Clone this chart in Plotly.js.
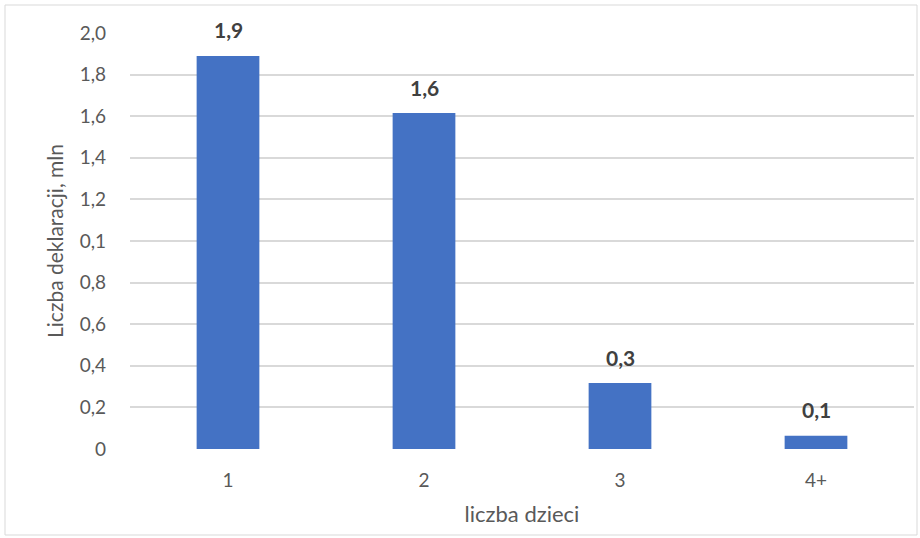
<!DOCTYPE html>
<html>
<head>
<meta charset="utf-8">
<script src="https://cdn.plot.ly/plotly-3.0.1.min.js"></script>
<style>
  html, body { margin: 0; padding: 0; background: #ffffff; }
  #chart { width: 920px; height: 538px; }
</style>
</head>
<body>
<div id="chart"></div>
<script>
// Declarations by number of children (millions)
const categories = ["1", "2", "3", "4+"];
const declarations = [1.89, 1.615, 0.317, 0.064];

// Y-axis ticks and their printed labels
const yTickValues = [0, 0.2, 0.4, 0.6, 0.8, 1.0, 1.2, 1.4, 1.6, 1.8, 2.0];
const yTickLabels = ["0", "0,2", "0,4", "0,6", "0,8", "0,1", "1,2", "1,4", "1,6", "1,8", "2,0"];

const W = 920, H = 538;
const margin = { l: 130, r: 6, t: 33, b: 89 };
const plotW = W - margin.l - margin.r;
const plotH = H - margin.t - margin.b;
const FONT = "Lato, 'Open Sans', sans-serif";

// Outer frame drawn in paper coordinates
const px = x => (x - margin.l) / plotW;
const py = y => (H - margin.b - y) / plotH;

// Value labels: one decimal with a decimal comma, floating above each bar.
// On a category axis the annotation x is the category's index.
const fmt = v => v.toFixed(1).replace(".", ",");
const valueLabels = declarations.map((v, i) => ({
  x: i,
  y: v,
  xref: "x", yref: "y",
  text: "<b>" + fmt(v) + "</b>",
  showarrow: false,
  yanchor: "middle",
  yshift: 26,
  font: { family: FONT, size: 21, color: "#404040" }
}));

const trace = {
  type: "bar",
  x: categories,
  y: declarations,
  marker: { color: "#4472c4" },
  width: 0.32,
  hoverinfo: "skip"
};

const layout = {
  width: W,
  height: H,
  margin: margin,
  separators: ",.",
  paper_bgcolor: "#ffffff",
  plot_bgcolor: "#ffffff",
  font: { family: FONT, size: 19, color: "#595959" },
  showlegend: false,
  xaxis: {
    type: "category",
    showgrid: false,
    zeroline: false,
    showline: false,
    ticks: "",
    ticklen: 0,
    ticklabelstandoff: 18,
    tickfont: { size: 19, color: "#595959" },
    title: { text: "liczba dzieci", font: { size: 22, color: "#595959" }, standoff: 16 }
  },
  yaxis: {
    range: [0, 2.0],
    tickmode: "array",
    tickvals: yTickValues,
    ticktext: yTickLabels,
    showgrid: true,
    gridcolor: "#d9d9d9",
    gridwidth: 2,
    zeroline: false,
    showline: false,
    ticks: "",
    ticklabelstandoff: 23,
    tickfont: { size: 19, color: "#595959" },
    title: { text: "Liczba deklaracji, mln", font: { size: 21, color: "#595959" }, standoff: 10 }
  },
  annotations: valueLabels,
  shapes: [{
    type: "rect",
    xref: "paper", yref: "paper",
    x0: px(5), x1: px(917), y0: py(5), y1: py(535),
    line: { color: "#d9d9d9", width: 1 },
    fillcolor: "rgba(0,0,0,0)",
    layer: "below"
  }]
};

Plotly.newPlot("chart", [trace], layout, { displayModeBar: false, staticPlot: true });
</script>
</body>
</html>
